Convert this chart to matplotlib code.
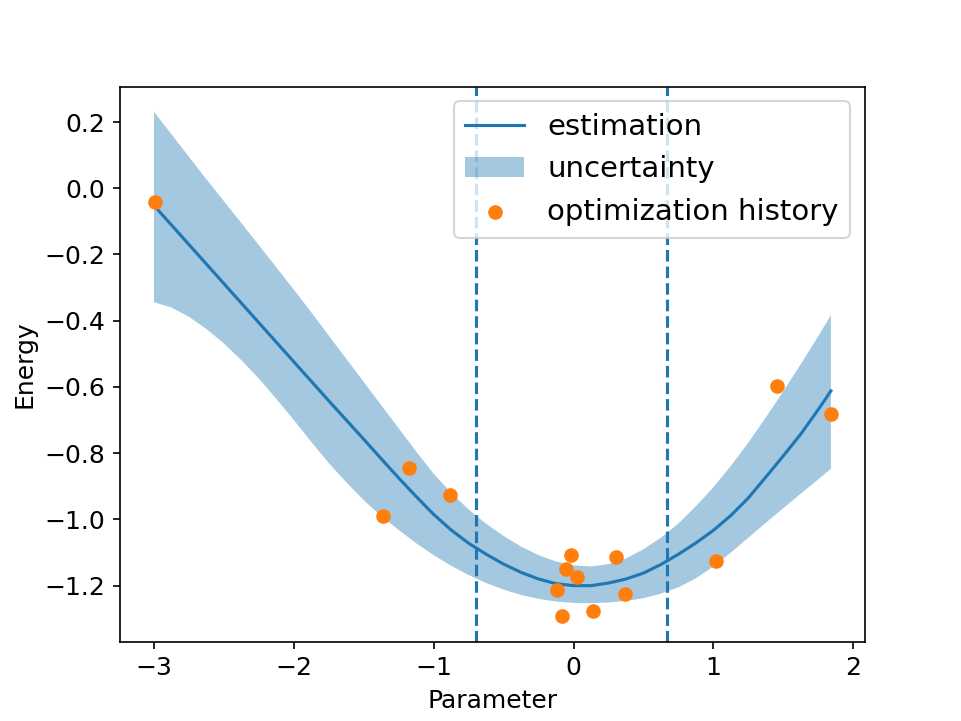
import numpy as np
import matplotlib
matplotlib.use("Agg")
import matplotlib.pyplot as plt

plt.rcParams['font.size'] = 12

# estimated surrogate
grid_x = [-3.0, -2.875, -2.75, -2.625, -2.5, -2.375, -2.25, -2.125, -2.0, -1.875,
          -1.75, -1.625, -1.5, -1.375, -1.25, -1.125, -1.0, -0.875, -0.75, -0.625,
          -0.5, -0.375, -0.25, -0.125, 0.0, 0.125, 0.25, 0.375, 0.5, 0.625,
          0.75, 0.875, 1.0, 1.125, 1.25, 1.375, 1.5, 1.625, 1.75, 1.84]
est_mean = [-0.052, -0.111, -0.170, -0.229, -0.288, -0.347, -0.406, -0.465, -0.524, -0.583,
            -0.642, -0.700, -0.758, -0.817, -0.875, -0.931, -0.985, -1.032, -1.072, -1.105,
            -1.135, -1.160, -1.180, -1.194, -1.200, -1.200, -1.192, -1.180, -1.162, -1.136,
            -1.105, -1.071, -1.033, -0.988, -0.935, -0.872, -0.808, -0.742, -0.668, -0.612]
est_upper = [0.231, 0.163, 0.095, 0.027, -0.039, -0.105, -0.172, -0.239, -0.306, -0.375,
             -0.445, -0.515, -0.585, -0.655, -0.725, -0.795, -0.862, -0.920, -0.970, -1.013,
             -1.050, -1.082, -1.108, -1.127, -1.139, -1.142, -1.135, -1.118, -1.090, -1.055,
             -1.012, -0.960, -0.903, -0.838, -0.768, -0.692, -0.613, -0.531, -0.446, -0.383]
est_lower = [-0.344, -0.360, -0.388, -0.425, -0.469, -0.519, -0.575, -0.636, -0.700, -0.766,
             -0.830, -0.888, -0.942, -0.990, -1.032, -1.072, -1.108, -1.140, -1.168, -1.192,
             -1.212, -1.228, -1.240, -1.248, -1.252, -1.253, -1.251, -1.246, -1.238, -1.224,
             -1.205, -1.178, -1.142, -1.100, -1.055, -1.010, -0.966, -0.922, -0.879, -0.847]

# optimization history
hist_x = [-2.99, -1.366, -1.176, -0.881, -0.019, -0.054, 0.024, -0.119, -0.086,
          0.141, 0.307, 0.367, 1.017, 1.457, 1.841]
hist_y = [-0.040, -0.989, -0.845, -0.925, -1.106, -1.150, -1.174, -1.213, -1.293,
          -1.278, -1.112, -1.225, -1.125, -0.597, -0.682]

# dashed bounds
bounds = [-0.70, 0.671]

fig = plt.figure(figsize=(961 / 150, 721 / 150), dpi=150)
ax = fig.add_subplot(111)

ax.plot(grid_x, est_mean, label='estimation')
ax.fill_between(grid_x, est_lower, est_upper, alpha=0.4, label='uncertainty')
ax.scatter(hist_x, hist_y, color='C1', label='optimization history', zorder=3)
for b in bounds:
    ax.axvline(b, linestyle='--', color='C0')

ax.set_xlabel('Parameter')
ax.set_ylabel('Energy')
ax.legend(loc='upper right', fontsize=14)

plt.savefig('out.png', dpi=150)
